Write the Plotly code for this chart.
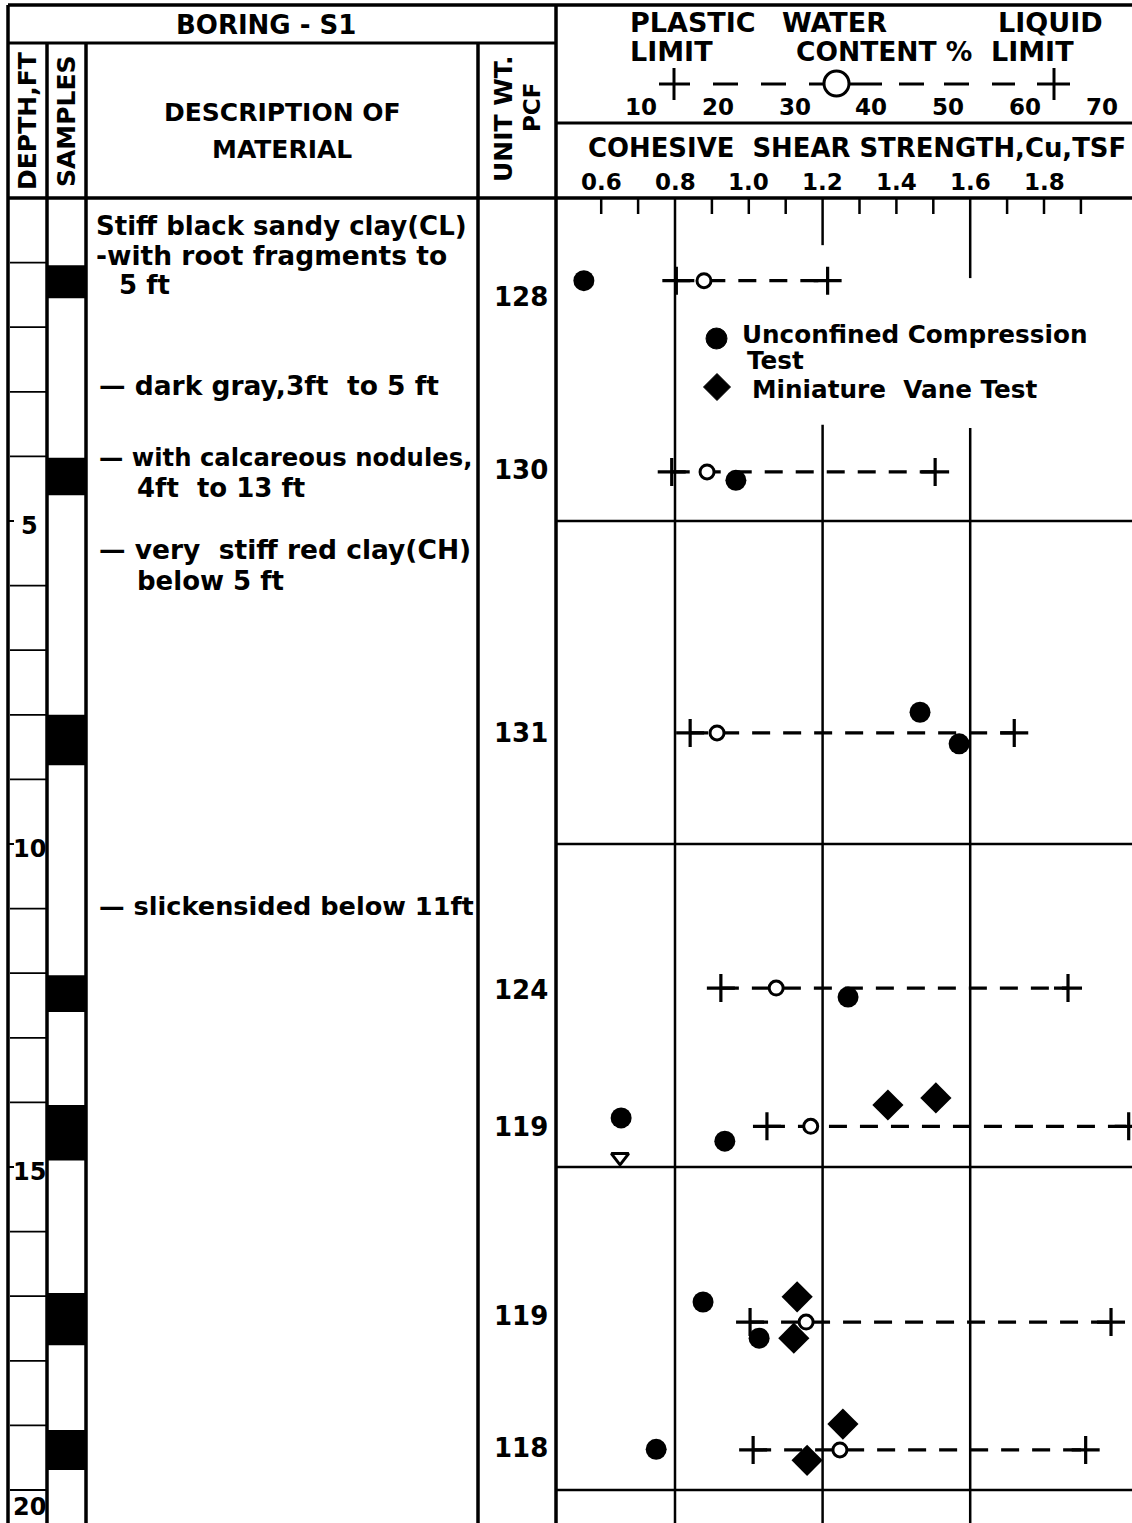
import plotly.graph_objects as go

W, H = 1132, 1523

# ---------------- data ----------------
# Atterberg limits and natural water content (%), by sample depth (ft)
wc_depth = [1.28, 4.24, 8.28, 12.23, 14.37, 17.40, 19.38]
plastic_limit = [14.6, 14.0, 16.4, 20.4, 26.4, 24.2, 24.6]
water_content = [18.2, 18.6, 19.9, 27.6, 32.1, 31.5, 35.9]
liquid_limit = [34.3, 48.3, 58.6, 65.6, 73.5, 71.2, 67.9]

# Unconfined compression test, Cu (tsf)
uc_depth = [1.28, 4.37, 7.96, 8.45, 12.37, 14.24, 14.60, 17.09, 17.65, 19.37]
uc_cu = [0.553, 0.965, 1.464, 1.570, 1.269, 0.654, 0.935, 0.876, 1.028, 0.749]

# Miniature vane test, Cu (tsf)
mv_depth = [14.04, 13.93, 17.01, 17.65, 18.98, 19.54]
mv_cu = [1.377, 1.507, 1.131, 1.122, 1.255, 1.158]

# Water level
wl_depth = [14.85]
wl_cu = [0.651]

# Unit weight (pcf)
unit_wt_depth = [1.53, 4.21, 8.28, 12.26, 14.38, 17.30, 19.35]
unit_wt = [128, 130, 131, 124, 119, 119, 118]

# Sampled intervals (ft)
sample_top = [1.04, 4.02, 8.00, 12.03, 14.04, 16.95, 19.07]
sample_bottom = [1.55, 4.60, 8.78, 12.60, 14.90, 17.76, 19.69]

# Axis tick labels
cu_labels = [0.6, 0.8, 1.0, 1.2, 1.4, 1.6, 1.8]
cu_minor = [0.6, 0.7, 0.9, 1.0, 1.1, 1.3, 1.4, 1.5, 1.7, 1.8, 1.9]
cu_major = [0.8, 1.2, 1.6]
wc_labels = [10, 20, 30, 40, 50, 60, 70]
depth_labels = [5, 10, 15, 20]

# Material description lines
description = [
    "Stiff black sandy clay(CL)",
    "-with root fragments to",
    "5 ft",
    "\u2014 dark gray,3ft  to 5 ft",
    "\u2014 with calcareous nodules,",
    "4ft  to 13 ft",
    "\u2014 very  stiff red clay(CH)",
    "below 5 ft",
    "\u2014 slickensided below 11ft",
]

# ---------------- layout geometry ----------------
TOP_DATA = 198          # pixel row of depth 0
PX_PER_FT = 64.6
PLOT_LEFT = 556
DEPTH_MAX = (H - TOP_DATA) / PX_PER_FT
CU_RANGE = [0.8 + (PLOT_LEFT - 675) / 369.0, 0.8 + (W - 675) / 369.0]
WC_RANGE = [10 + (PLOT_LEFT - 641) / 7.68, 10 + (W - 641) / 7.68]

# placement (x, y in px, font size) of each description line
description_place = [
    (94, 226, 26), (94, 255, 26.5), (117, 285, 26),
    (97, 386, 26.5), (97, 457, 24.3), (135, 488, 26),
    (97, 549, 26.5), (135, 581, 26), (97, 906, 25.6),
]


def px(x):
    return x / W


def py(y):
    return 1 - y / H


FONT = "DejaVu Sans"
shapes = []
annotations = []


def fnt(size):
    return dict(family=FONT, size=size, color="black", weight="bold")


def line_px(x0, y0, x1, y1, w=3):
    shapes.append(dict(type="line", xref="paper", yref="paper",
                       x0=px(x0), y0=py(y0), x1=px(x1), y1=py(y1),
                       line=dict(color="black", width=w)))


def text(t, x, y, size, anchor="center", angle=0):
    annotations.append(dict(text=t, x=px(x), y=py(y), xref="paper", yref="paper",
                            xanchor=anchor, yanchor="middle", showarrow=False,
                            textangle=angle, font=fnt(size)))


# frame and column rules
line_px(8, 5, W, 5, 3.5)
line_px(8, 5, 8, H, 3.5)
line_px(8, 43, PLOT_LEFT, 43, 3)
line_px(47, 43, 47, H, 3.5)
line_px(86, 43, 86, H, 3.5)
line_px(478, 43, 478, H, 3.5)
line_px(PLOT_LEFT, 5, PLOT_LEFT, H, 3.5)
line_px(PLOT_LEFT, 123, W, 123, 3)
line_px(8, TOP_DATA, W, TOP_DATA, 3.5)

# header text
text("BORING - S1", 266, 25, 26)
text("DEPTH,FT", 28, 121, 25, angle=-90)
text("SAMPLES", 67, 121, 25, angle=-90)
text("DESCRIPTION OF", 282, 112, 25)
text("MATERIAL", 282, 150, 25)
text("UNIT WT.", 503, 119, 25, angle=-90)
text("PCF", 532, 108, 23, angle=-90)
text("PLASTIC", 628, 22, 27, anchor="left")
text("WATER", 780, 22, 27, anchor="left")
text("LIQUID", 996, 22, 27, anchor="left")
text("LIMIT", 628, 51, 27, anchor="left")
text("CONTENT %", 794, 51, 26.5, anchor="left")
text("LIMIT", 989, 51, 27, anchor="left")
text("COHESIVE  SHEAR STRENGTH,Cu,TSF", 586, 148, 25.9, anchor="left")

# water content key:  + - - -o- - - - +
line_px(659, 84, 690, 84, 3)
line_px(674, 68, 674, 100, 3)
line_px(1037, 84, 1070, 84, 3)
line_px(1054, 68, 1054, 100, 3)
for a, b in [(713, 738), (761, 786), (809, 824), (849, 882), (899, 924), (944, 969), (992, 1015)]:
    line_px(a, 84, b, 84, 3)
shapes.append(dict(type="circle", xref="paper", yref="paper",
                   x0=px(824), x1=px(849), y0=py(71), y1=py(96),
                   line=dict(color="black", width=3), fillcolor="white"))

# water content scale labels
for v in wc_labels:
    annotations.append(dict(text=str(v), x=v, y=py(107), xref="x2", yref="paper",
                            showarrow=False, xanchor="center", yanchor="middle",
                            font=fnt(23)))
# shear strength scale labels
for v in cu_labels:
    annotations.append(dict(text=f"{v:.1f}", x=v, y=py(182), xref="x", yref="paper",
                            showarrow=False, xanchor="center", yanchor="middle",
                            font=fnt(23)))
# short ticks along top of the strength panel
for v in cu_minor:
    shapes.append(dict(type="line", xref="x", yref="paper", x0=v, x1=v,
                       y0=py(TOP_DATA), y1=py(TOP_DATA + 16),
                       line=dict(color="black", width=2.5)))

# strength panel grid: verticals (broken around the key) and 5-ft horizontals
major_segments = {0.8: [(0, DEPTH_MAX)],
                  1.2: [(0, 0.73), (3.51, DEPTH_MAX)],
                  1.6: [(0, 1.24), (3.56, DEPTH_MAX)]}
for v in cu_major:
    for d0, d1 in major_segments[v]:
        shapes.append(dict(type="line", xref="x", yref="y", x0=v, x1=v, y0=d0, y1=d1,
                           line=dict(color="black", width=2.5), layer="below"))
for d in depth_labels:
    shapes.append(dict(type="line", xref="paper", yref="y", x0=px(PLOT_LEFT), x1=1,
                       y0=d, y1=d, line=dict(color="black", width=2.5), layer="below"))

# depth column: one-foot rules and labels
for d in range(1, 21):
    if d in (5, 10, 15):
        continue
    shapes.append(dict(type="line", xref="paper", yref="y", x0=px(10), x1=px(47),
                       y0=d, y1=d, line=dict(color="black", width=1.8)))
for d in depth_labels:
    shift = -17 if d == 20 else -5
    annotations.append(dict(text=str(d), x=px(29), y=d, xref="paper", yref="y",
                            yshift=shift, showarrow=False, xanchor="center", yanchor="middle",
                            font=fnt(24)))
    if d != 20:
        shapes.append(dict(type="line", xref="paper", yref="y", x0=px(8), x1=px(14),
                           y0=d, y1=d, line=dict(color="black", width=2)))

# sample column: sampled intervals
for t, b in zip(sample_top, sample_bottom):
    shapes.append(dict(type="rect", xref="paper", yref="y", x0=px(47), x1=px(86),
                       y0=t, y1=b, fillcolor="black", line=dict(width=0)))

# material description
for t, (x, y, s) in zip(description, description_place):
    text(t, x, y, s, anchor="left")

# unit weights
for d, v in zip(unit_wt_depth, unit_wt):
    annotations.append(dict(text=str(v), x=px(521), y=d, xref="paper", yref="y",
                            showarrow=False, xanchor="center", yanchor="middle",
                            font=fnt(26)))

# key for strength symbols
shapes.append(dict(type="circle", xref="paper", yref="paper",
                   x0=px(706), x1=px(727), y0=py(328), y1=py(349),
                   fillcolor="black", line=dict(color="black", width=1)))
dx, dy = 13.5 / W, 13.5 / H
cx, cy = px(717), py(387)
shapes.append(dict(type="path", xref="paper", yref="paper",
                   path=f"M {cx},{cy + dy} L {cx + dx},{cy} L {cx},{cy - dy} L {cx - dx},{cy} Z",
                   fillcolor="black", line=dict(color="black", width=1)))
text("Unconfined Compression", 740, 334, 24.7, anchor="left")
text("Test", 745, 361, 24.7, anchor="left")
text("Miniature  Vane Test", 750, 389, 24.7, anchor="left")

# ---------------- traces ----------------
fig = go.Figure()

for d, pl, ll in zip(wc_depth, plastic_limit, liquid_limit):
    fig.add_trace(go.Scatter(x=[pl, ll], y=[d, d], xaxis="x2", yaxis="y", mode="lines",
                             line=dict(color="black", width=3.2, dash="18px,13px"),
                             hoverinfo="skip", showlegend=False))

fig.add_trace(go.Scatter(x=plastic_limit + liquid_limit, y=wc_depth + wc_depth,
                         xaxis="x2", yaxis="y", mode="markers", name="Atterberg limits",
                         marker=dict(symbol="cross-thin", size=20, color="black",
                                     line=dict(color="black", width=3.2)),
                         showlegend=False))
fig.add_trace(go.Scatter(x=water_content, y=wc_depth, xaxis="x2", yaxis="y",
                         mode="markers", name="Water content",
                         marker=dict(symbol="circle", size=14, color="white",
                                     line=dict(color="black", width=3)),
                         showlegend=False))
fig.add_trace(go.Scatter(x=uc_cu, y=uc_depth, xaxis="x", yaxis="y", mode="markers",
                         name="Unconfined Compression Test",
                         marker=dict(symbol="circle", size=21, color="black"),
                         showlegend=False))
fig.add_trace(go.Scatter(x=mv_cu, y=mv_depth, xaxis="x", yaxis="y", mode="markers",
                         name="Miniature Vane Test",
                         marker=dict(symbol="diamond", size=24, color="black"),
                         showlegend=False))
fig.add_trace(go.Scatter(x=wl_cu, y=wl_depth, xaxis="x", yaxis="y", mode="markers",
                         name="Water level",
                         marker=dict(symbol="triangle-down-open", size=15, color="black",
                                     line=dict(color="black", width=3)),
                         showlegend=False))

fig.update_layout(
    width=W, height=H,
    margin=dict(l=0, r=0, t=0, b=0),
    paper_bgcolor="white", plot_bgcolor="white",
    showlegend=False,
    xaxis=dict(domain=[px(PLOT_LEFT), 1], range=CU_RANGE, visible=False, fixedrange=True),
    xaxis2=dict(domain=[px(PLOT_LEFT), 1], range=WC_RANGE, visible=False,
                overlaying="x", anchor="y"),
    yaxis=dict(domain=[0, py(TOP_DATA)], range=[DEPTH_MAX, 0], visible=False),
    shapes=shapes,
    annotations=annotations,
)

fig.write_html("out.html")
